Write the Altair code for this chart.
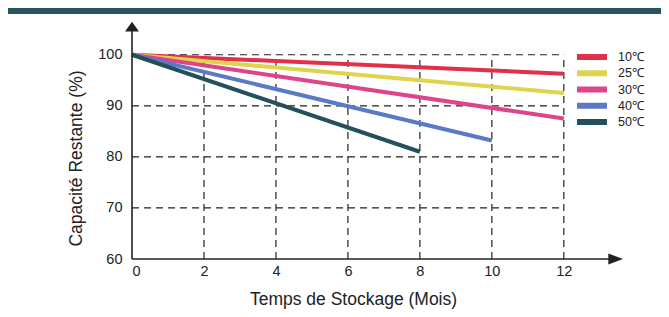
import altair as alt
import pandas as pd

# ---- data ----
temps = ["10℃", "25℃", "30℃", "40℃", "50℃"]
colors = ["#E1304A", "#DDD54C", "#DE4489", "#5B79C4", "#244F5B"]
start_month = [0, 0, 0, 0, 0]
start_capacity = [100, 100, 100, 100, 100]
end_month = [12, 12, 12, 10, 8]
end_capacity = [96.3, 92.5, 87.5, 83.2, 81.0]

x_ticks = [0, 2, 4, 6, 8, 10, 12]
y_ticks = [60, 70, 80, 90, 100]
grid_x = [2, 4, 6, 8, 10, 12]
grid_y = [70, 80, 90, 100]

FONT = "Liberation Sans"
INK = "#222222"

rows = []
for t, m0, c0, m1, c1 in zip(temps, start_month, start_capacity, end_month, end_capacity):
    rows.append({"temp": t, "month": m0, "cap": c0})
    rows.append({"temp": t, "month": m1, "cap": c1})
lines_df = pd.DataFrame(rows)

W, H = 493, 240
xs = alt.Scale(domain=[0, 13.7], nice=False, zero=False)
ys = alt.Scale(domain=[60, 107], nice=False, zero=False)

x_axis = alt.Axis(values=x_ticks, ticks=False, domain=False, grid=False,
                  labelFont=FONT, labelFontSize=14.5, labelColor=INK,
                  labelPadding=5, labelFlush=True,
                  title="Temps de Stockage (Mois)", titleFont=FONT,
                  titleFontSize=17.5, titleFontWeight="normal", titleColor=INK,
                  titleX=221, titleY=45, titleBaseline="alphabetic",
                  titleAlign="center")
y_axis = alt.Axis(values=y_ticks, ticks=False, domain=False, grid=False,
                  labelFont=FONT, labelFontSize=14.5, labelColor=INK,
                  labelPadding=10,
                  title="Capacité Restante (%)", titleFont=FONT,
                  titleFontSize=17.5, titleFontWeight="normal", titleColor=INK,
                  titleX=-51, titleY=139, titleBaseline="alphabetic",
                  titleAlign="center", titleAngle=-90)


def X(field):
    return alt.X(field, scale=xs, axis=x_axis, title="Temps de Stockage (Mois)")


def Y(field):
    return alt.Y(field, scale=ys, axis=y_axis, title="Capacité Restante (%)")


gh = pd.DataFrame({"gy": grid_y, "x0": [0] * len(grid_y), "x1": [12] * len(grid_y)})
gv = pd.DataFrame({"gx": grid_x, "y0": [60] * len(grid_x), "y1": [100] * len(grid_x)})

grid_h = alt.Chart(gh).mark_rule(color=INK, strokeWidth=1.2, strokeDash=[7, 5]).encode(
    x=X("x0:Q"), x2="x1:Q", y=Y("gy:Q"))
grid_v = alt.Chart(gv).mark_rule(color=INK, strokeWidth=1.2, strokeDash=[7, 5]).encode(
    x=X("gx:Q"), y=Y("y0:Q"), y2="y1:Q")

lines = alt.Chart(lines_df).mark_line(strokeWidth=4, strokeCap="butt").encode(
    x=X("month:Q"),
    y=Y("cap:Q"),
    color=alt.Color("temp:N", scale=alt.Scale(domain=temps, range=colors),
                    legend=alt.Legend(orient="none", legendX=442, legendY=31, title=None,
                                      symbolType="stroke", symbolSize=900,
                                      symbolStrokeWidth=6, clipHeight=14,
                                      rowPadding=2.25, labelOffset=8,
                                      labelFont=FONT, labelFontSize=12.5,
                                      labelColor=INK, padding=0)),
    order=alt.Order("month:Q"),
)

axis_pts = pd.DataFrame({"month": [0], "cap": [60], "ytop": [105.2], "xend": [13.3]})
y_axis_line = alt.Chart(axis_pts).mark_rule(color=INK, strokeWidth=1.6).encode(
    x=X("month:Q"), y=Y("cap:Q"), y2="ytop:Q")
x_axis_line = alt.Chart(axis_pts).mark_rule(color=INK, strokeWidth=1.6).encode(
    x=X("month:Q"), x2="xend:Q", y=Y("cap:Q"))

arrow_up = pd.DataFrame({"month": [0], "cap": [105.5]})
arrow_right = pd.DataFrame({"month": [13.44], "cap": [60]})
up = alt.Chart(arrow_up).mark_point(
    shape="M-1,0.7L0,-0.7L1,0.7Z", size=196, filled=True, color=INK, opacity=1,
    strokeWidth=0).encode(x=X("month:Q"), y=Y("cap:Q"))
right = alt.Chart(arrow_right).mark_point(
    shape="M-1,-0.75L1,0L-1,0.75Z", size=216, filled=True, color=INK, opacity=1,
    strokeWidth=0).encode(x=X("month:Q"), y=Y("cap:Q"))

band = alt.Chart(pd.DataFrame({"a": [0]})).mark_rect(color="#27545F").encode(
    x=alt.value(-124), x2=alt.value(W + 36), y=alt.value(-11), y2=alt.value(-5))

chart = alt.layer(grid_h, grid_v, lines, y_axis_line, x_axis_line, up, right, band).properties(
    width=W, height=H,
    autosize=alt.AutoSizeParams(type="none"),
    padding={"left": 124, "top": 11, "right": 36, "bottom": 53},
    background="white",
).configure_view(stroke=None)

chart.save("out.html", embed_options={"renderer": "svg", "actions": False})
